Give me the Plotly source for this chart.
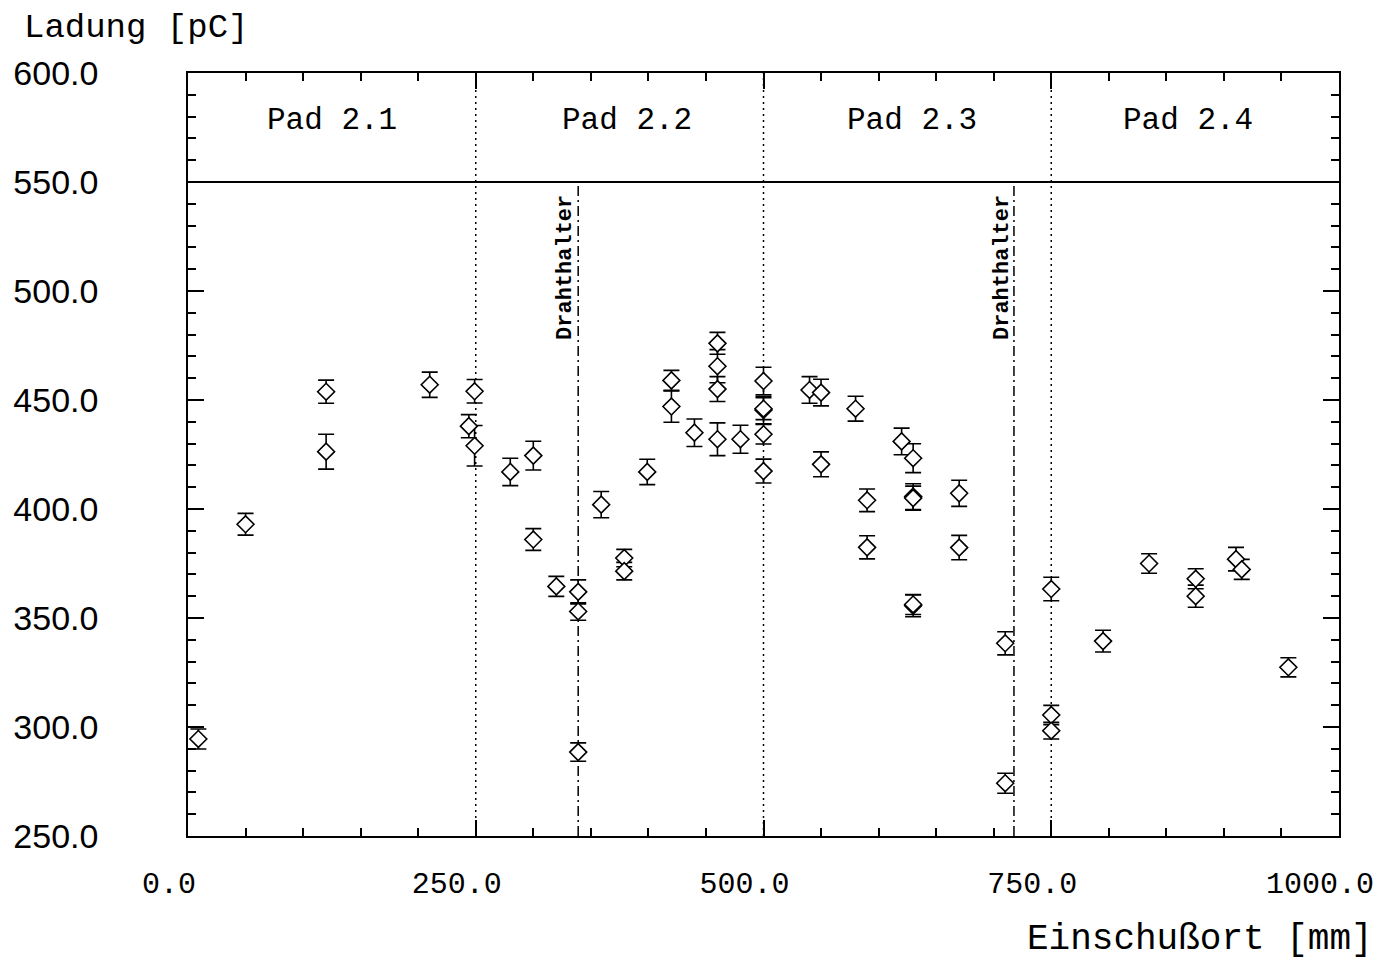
import plotly.graph_objects as go

# ---------------- data ----------------
pos_mm = [9, 50, 120, 120, 210, 249, 244, 249,
          280, 300, 300, 320, 339, 339, 339, 359, 379, 379, 399, 420, 420, 440,
          460, 460, 460, 460, 480, 500, 500, 500, 500, 500,
          540, 550, 580, 550, 590, 590, 620, 630, 630, 630, 630, 630, 670, 670,
          710, 710, 750, 750, 750,
          795, 835, 875.5, 875.5, 910.5, 915.5, 956]
charge_pc = [294.5, 393.0, 453.8, 426.3, 457.0, 454.0, 438.0, 429.0,
             417.0, 424.5, 386.0, 364.5, 362.0, 353.0, 288.5, 402.0, 377.5, 371.5, 417.0, 459.0, 447.0, 435.0,
             476.0, 465.5, 455.0, 432.0, 432.0, 458.7, 445.4, 446.0, 434.3, 417.4,
             454.6, 453.4, 446.0, 420.5, 404.0, 382.4, 431.0, 423.3, 405.7, 405.0, 355.6, 356.2, 407.2, 382.3,
             338.4, 274.2, 363.3, 305.5, 298.3,
             339.4, 375.0, 368.0, 360.0, 377.0, 372.3, 327.4]
charge_err = [4.6, 5.0, 5.3, 8.0, 5.8, 5.4, 5.3, 9.3,
              6.3, 6.6, 5.0, 4.6, 5.5, 4.0, 4.2, 6.0, 4.0, 4.0, 5.8, 4.6, 7.2, 6.3,
              5.0, 7.6, 5.7, 7.5, 6.4, 6.3, 6.3, 5.0, 4.5, 5.5,
              6.1, 6.1, 5.7, 5.7, 5.2, 5.3, 6.1, 6.6, 5.9, 5.5, 5.0, 4.6, 6.0, 5.6,
              5.3, 4.6, 5.4, 4.4, 3.8,
              5.0, 4.5, 4.6, 5.1, 5.4, 4.6, 4.4]

pad_names = ["Pad 2.1", "Pad 2.2", "Pad 2.3", "Pad 2.4"]
pad_label_x = [125, 381, 629, 869]
pad_label_y = 578.4
pad_borders = [250, 500, 750]
holder_x = [339, 717.6]
holder_label = "Drahthalter"
holder_label_x = [327.5, 707.2]
holder_label_y = 511
header_y = 550

x_tickvals = [0, 250, 500, 750, 1000]
x_ticktext = ["0.0", "250.0", "500.0", "750.0", "1000.0"]
y_tickvals = [250, 300, 350, 400, 450, 500, 550, 600]
y_ticktext = ["250.0", "300.0", "350.0", "400.0", "450.0", "500.0", "550.0", "600.0"]

x_title = "Einschußort [mm]"
y_title = "Ladung [pC]"

XMIN, XMAX, YMIN, YMAX = 0, 1000, 250, 600

# ---------------- figure ----------------
fig = go.Figure()

shapes = []
for b in pad_borders:
    shapes.append(dict(type="line", xref="x", yref="y", x0=b, x1=b, y0=YMIN, y1=YMAX,
                       line=dict(color="black", width=1.5, dash="2px,4px"), layer="below"))
for h in holder_x:
    shapes.append(dict(type="line", xref="x", yref="y", x0=h, x1=h, y0=YMIN, y1=header_y,
                       line=dict(color="black", width=1.5, dash="10px,4px,2px,4px"), layer="below"))
shapes.append(dict(type="line", xref="x", yref="y", x0=XMIN, x1=XMAX, y0=header_y, y1=header_y,
                   line=dict(color="black", width=2)))

fig.add_trace(go.Scatter(
    x=pos_mm, y=charge_pc, mode="markers",
    error_y=dict(type="data", array=charge_err, visible=True, color="black",
                 thickness=1.6, width=8),
    marker=dict(symbol="diamond", size=13, color="white",
                line=dict(color="black", width=1.6)),
    showlegend=False, hoverinfo="x+y",
))

annotations = []
for name, px in zip(pad_names, pad_label_x):
    annotations.append(dict(x=px, y=pad_label_y, xref="x", yref="y", text=name,
                            showarrow=False, xanchor="center", yanchor="middle",
                            font=dict(family="Liberation Mono", size=31, color="black")))
for hx in holder_label_x:
    annotations.append(dict(x=hx, y=holder_label_y, xref="x", yref="y", text="<b>" + holder_label + "</b>",
                            showarrow=False, textangle=-90, xanchor="center", yanchor="middle",
                            font=dict(family="Liberation Mono", size=22, color="black")))
annotations.append(dict(x=-0.1442, y=1.059, xref="paper", yref="paper", text=y_title,
                        showarrow=False, xanchor="left", yanchor="middle",
                        font=dict(family="Liberation Mono", size=34, color="black")))
annotations.append(dict(x=1.0313, y=-0.1363, xref="paper", yref="paper", text=x_title,
                        showarrow=False, xanchor="right", yanchor="middle",
                        font=dict(family="Liberation Mono", size=36, color="black")))

fig.update_layout(
    width=1381, height=953,
    margin=dict(l=180, r=50, t=65, b=125, autoexpand=False),
    paper_bgcolor="white", plot_bgcolor="white",
    shapes=shapes, annotations=annotations,
    showlegend=False,
)

fig.update_xaxes(
    range=[XMIN, XMAX], showgrid=False, zeroline=False, automargin=False,
    showline=True, linecolor="black", linewidth=1.5, mirror="allticks",
    ticks="inside", ticklen=16, tickwidth=1.5, tickcolor="black",
    tickvals=x_tickvals, ticktext=x_ticktext,
    tickfont=dict(family="Liberation Mono", size=30, color="black"),
    ticklabelstandoff=19, ticklabelshift=-19,
    minor=dict(dtick=50, tick0=0, ticks="inside", ticklen=8, tickwidth=1.5,
               tickcolor="black", showgrid=False),
)
fig.update_yaxes(
    range=[YMIN, YMAX], showgrid=False, zeroline=False, automargin=False,
    showline=True, linecolor="black", linewidth=1.5, mirror="allticks",
    ticks="inside", ticklen=16, tickwidth=1.5, tickcolor="black",
    tickvals=y_tickvals, ticktext=y_ticktext,
    tickfont=dict(family="Liberation Sans", size=34, color="black"),
    ticklabelstandoff=81,
    minor=dict(dtick=10, tick0=0, ticks="inside", ticklen=8, tickwidth=1.5,
               tickcolor="black", showgrid=False),
)

fig.write_html("out.html")
